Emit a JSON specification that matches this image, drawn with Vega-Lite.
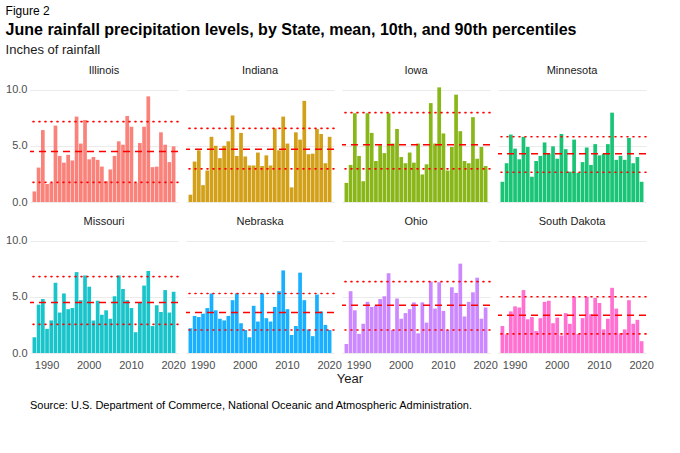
{
  "$schema": "https://vega.github.io/schema/vega-lite/v6.json",
  "title": {"text": "Figure 2", "anchor": "start", "fontSize": 12, "fontWeight": "normal", "offset": 4},
  "datasets": {
    "stats": [
      {"state": "Illinois", "mean": 4.5, "p10": 1.75, "p90": 7.15},
      {"state": "Indiana", "mean": 4.7, "p10": 2.95, "p90": 6.55},
      {"state": "Iowa", "mean": 5.1, "p10": 2.95, "p90": 7.95},
      {"state": "Minnesota", "mean": 4.3, "p10": 2.65, "p90": 5.8},
      {"state": "Missouri", "mean": 4.5, "p10": 2.55, "p90": 6.8},
      {"state": "Nebraska", "mean": 3.6, "p10": 2.05, "p90": 5.3},
      {"state": "Ohio", "mean": 4.25, "p10": 2.05, "p90": 6.35},
      {"state": "South Dakota", "mean": 3.35, "p10": 1.7, "p90": 5.0}
    ]
  },
  "vconcat": [
    {
      "title": {"text": "June rainfall precipitation levels, by State, mean, 10th, and 90th percentiles", "subtitle": "Inches of rainfall", "anchor": "start", "fontSize": 16, "fontWeight": "bold", "subtitleFontSize": 13, "subtitleColor": "#1a1a1a", "subtitlePadding": 6, "offset": 8},
      "data": {"values": [
        {"year": 1987, "Illinois": 0.94, "Indiana": 0.65, "Iowa": 1.7, "Minnesota": 1.8, "Missouri": 1.4, "Nebraska": 2.2, "Ohio": 0.8, "South Dakota": 2.4},
        {"year": 1988, "Illinois": 3.06, "Indiana": 3.6, "Iowa": 3.3, "Minnesota": 3.45, "Missouri": 4.3, "Nebraska": 3.3, "Ohio": 5.5, "South Dakota": 1.65},
        {"year": 1989, "Illinois": 6.4, "Indiana": 4.6, "Iowa": 7.9, "Minnesota": 6.0, "Missouri": 4.8, "Nebraska": 3.2, "Ohio": 3.8, "South Dakota": 3.7},
        {"year": 1990, "Illinois": 1.6, "Indiana": 1.5, "Iowa": 4.1, "Minnesota": 4.75, "Missouri": 2.15, "Nebraska": 3.5, "Ohio": 1.7, "South Dakota": 4.15},
        {"year": 1991, "Illinois": 1.7, "Indiana": 2.8, "Iowa": 1.85, "Minnesota": 3.8, "Missouri": 2.9, "Nebraska": 4.0, "Ohio": 2.6, "South Dakota": 4.05},
        {"year": 1992, "Illinois": 6.8, "Indiana": 5.8, "Iowa": 7.9, "Minnesota": 5.8, "Missouri": 6.25, "Nebraska": 5.3, "Ohio": 4.55, "South Dakota": 5.6},
        {"year": 1993, "Illinois": 4.1, "Indiana": 5.0, "Iowa": 6.15, "Minnesota": 4.9, "Missouri": 3.6, "Nebraska": 3.8, "Ohio": 4.1, "South Dakota": 3.0},
        {"year": 1994, "Illinois": 3.5, "Indiana": 3.9, "Iowa": 3.65, "Minnesota": 2.25, "Missouri": 5.3, "Nebraska": 3.05, "Ohio": 4.2, "South Dakota": 3.2},
        {"year": 1995, "Illinois": 4.2, "Indiana": 5.0, "Iowa": 5.05, "Minnesota": 3.65, "Missouri": 3.9, "Nebraska": 2.9, "Ohio": 4.8, "South Dakota": 1.95},
        {"year": 1996, "Illinois": 3.7, "Indiana": 5.4, "Iowa": 4.35, "Minnesota": 4.1, "Missouri": 4.0, "Nebraska": 3.3, "Ohio": 5.05, "South Dakota": 3.1},
        {"year": 1997, "Illinois": 7.6, "Indiana": 7.7, "Iowa": 7.9, "Minnesota": 5.3, "Missouri": 7.2, "Nebraska": 4.7, "Ohio": 7.1, "South Dakota": 4.55},
        {"year": 1998, "Illinois": 5.2, "Indiana": 4.1, "Iowa": 5.2, "Minnesota": 4.3, "Missouri": 4.7, "Nebraska": 5.3, "Ohio": 2.05, "South Dakota": 4.65},
        {"year": 1999, "Illinois": 7.3, "Indiana": 6.15, "Iowa": 6.5, "Minnesota": 4.95, "Missouri": 6.9, "Nebraska": 2.65, "Ohio": 4.85, "South Dakota": 2.65},
        {"year": 2000, "Illinois": 3.8, "Indiana": 4.05, "Iowa": 4.0, "Minnesota": 3.85, "Missouri": 5.9, "Nebraska": 2.05, "Ohio": 3.05, "South Dakota": 3.15},
        {"year": 2001, "Illinois": 4.0, "Indiana": 3.25, "Iowa": 3.45, "Minnesota": 6.05, "Missouri": 2.9, "Nebraska": 1.4, "Ohio": 3.55, "South Dakota": 1.55},
        {"year": 2002, "Illinois": 3.75, "Indiana": 3.25, "Iowa": 4.4, "Minnesota": 4.7, "Missouri": 4.65, "Nebraska": 4.2, "Ohio": 3.9, "South Dakota": 3.55},
        {"year": 2003, "Illinois": 3.15, "Indiana": 4.4, "Iowa": 3.5, "Minnesota": 2.7, "Missouri": 3.4, "Nebraska": 2.8, "Ohio": 4.5, "South Dakota": 2.6},
        {"year": 2004, "Illinois": 1.85, "Indiana": 3.2, "Iowa": 5.2, "Minnesota": 5.55, "Missouri": 3.8, "Nebraska": 5.3, "Ohio": 1.75, "South Dakota": 5.0},
        {"year": 2005, "Illinois": 2.9, "Indiana": 4.15, "Iowa": 2.45, "Minnesota": 2.6, "Missouri": 3.05, "Nebraska": 3.1, "Ohio": 4.5, "South Dakota": 1.7},
        {"year": 2006, "Illinois": 4.1, "Indiana": 3.25, "Iowa": 3.35, "Minnesota": 3.55, "Missouri": 5.05, "Nebraska": 2.8, "Ohio": 2.7, "South Dakota": 3.1},
        {"year": 2007, "Illinois": 5.4, "Indiana": 6.55, "Iowa": 8.8, "Minnesota": 4.85, "Missouri": 6.9, "Nebraska": 4.1, "Ohio": 6.35, "South Dakota": 5.0},
        {"year": 2008, "Illinois": 5.1, "Indiana": 4.6, "Iowa": 5.2, "Minnesota": 3.3, "Missouri": 5.7, "Nebraska": 5.5, "Ohio": 3.95, "South Dakota": 3.45},
        {"year": 2009, "Illinois": 7.65, "Indiana": 7.6, "Iowa": 10.2, "Minnesota": 5.15, "Missouri": 4.7, "Nebraska": 7.35, "Ohio": 6.3, "South Dakota": 4.9},
        {"year": 2010, "Illinois": 6.7, "Indiana": 5.2, "Iowa": 6.1, "Minnesota": 4.15, "Missouri": 4.0, "Nebraska": 3.9, "Ohio": 3.75, "South Dakota": 4.45},
        {"year": 2011, "Illinois": 1.7, "Indiana": 1.3, "Iowa": 2.8, "Minnesota": 4.3, "Missouri": 1.85, "Nebraska": 1.6, "Ohio": 2.05, "South Dakota": 2.1},
        {"year": 2012, "Illinois": 5.25, "Indiana": 6.2, "Iowa": 4.9, "Minnesota": 5.15, "Missouri": 4.45, "Nebraska": 2.4, "Ohio": 5.85, "South Dakota": 3.05},
        {"year": 2013, "Illinois": 6.7, "Indiana": 5.55, "Iowa": 9.55, "Minnesota": 7.95, "Missouri": 6.0, "Nebraska": 7.15, "Ohio": 5.35, "South Dakota": 5.8},
        {"year": 2014, "Illinois": 9.4, "Indiana": 9.0, "Iowa": 6.3, "Minnesota": 3.75, "Missouri": 7.3, "Nebraska": 4.7, "Ohio": 7.95, "South Dakota": 3.95},
        {"year": 2015, "Illinois": 3.1, "Indiana": 4.25, "Iowa": 3.65, "Minnesota": 4.1, "Missouri": 2.4, "Nebraska": 2.1, "Ohio": 3.25, "South Dakota": 1.75},
        {"year": 2016, "Illinois": 3.15, "Indiana": 4.3, "Iowa": 3.45, "Minnesota": 3.75, "Missouri": 4.25, "Nebraska": 1.5, "Ohio": 4.55, "South Dakota": 2.1},
        {"year": 2017, "Illinois": 6.2, "Indiana": 6.5, "Iowa": 7.55, "Minnesota": 5.7, "Missouri": 3.65, "Nebraska": 5.2, "Ohio": 5.4, "South Dakota": 4.7},
        {"year": 2018, "Illinois": 5.1, "Indiana": 6.05, "Iowa": 3.85, "Minnesota": 3.45, "Missouri": 5.6, "Nebraska": 3.7, "Ohio": 6.7, "South Dakota": 2.6},
        {"year": 2019, "Illinois": 3.55, "Indiana": 3.45, "Iowa": 4.9, "Minnesota": 4.0, "Missouri": 3.6, "Nebraska": 2.5, "Ohio": 3.05, "South Dakota": 2.95},
        {"year": 2020, "Illinois": 4.95, "Indiana": 5.8, "Iowa": 3.2, "Minnesota": 1.8, "Missouri": 5.45, "Nebraska": 2.05, "Ohio": 4.05, "South Dakota": 1.05}
      ]},
      "transform": [
        {"fold": ["Illinois", "Indiana", "Iowa", "Minnesota", "Missouri", "Nebraska", "Ohio", "South Dakota"], "as": ["state", "rain"]},
        {"lookup": "state", "from": {"data": {"name": "stats"}, "key": "state", "fields": ["mean", "p10", "p90"]}}
      ],
      "facet": {"field": "state", "type": "nominal", "header": {"title": null, "labelFontSize": 11, "labelColor": "#1a1a1a", "labelPadding": 8}},
      "columns": 4,
      "spacing": {"column": 6, "row": 14},
      "spec": {
        "width": 148,
        "height": 118,
        "layer": [
          {
            "mark": {"type": "bar", "fillOpacity": 0.9},
            "encoding": {
              "x": {"field": "year", "type": "ordinal", "title": null, "scale": {"paddingInner": 0.12, "paddingOuter": 0.6},
                "axis": {"labelExpr": "datum.value % 10 == 0 ? datum.label : ''", "labelAngle": 0, "ticks": false, "domain": false, "labelFontSize": 11, "labelColor": "#4d4d4d", "labelPadding": 6}},
              "y": {"field": "rain", "type": "quantitative", "title": null, "scale": {"domain": [0, 10.5], "nice": false},
                "axis": {"values": [0, 2.5, 5, 7.5, 10], "format": ".1f", "labelOverlap": false, "ticks": false, "domain": false, "gridColor": "#ebebeb", "labelFontSize": 11, "labelColor": "#4d4d4d"}},
              "color": {"field": "state", "type": "nominal", "legend": null,
                "scale": {"domain": ["Illinois", "Indiana", "Iowa", "Minnesota", "Missouri", "Nebraska", "Ohio", "South Dakota"],
                  "range": ["#F8766D", "#CD9600", "#7CAE00", "#00BE67", "#00BFC4", "#00A9FF", "#C77CFF", "#FF61CC"]}}
            }
          },
          {
            "mark": {"type": "rule", "color": "#ff0000", "strokeWidth": 1.5, "strokeDash": [7, 5]},
            "encoding": {"y": {"aggregate": "mean", "field": "mean", "type": "quantitative"}}
          },
          {
            "mark": {"type": "rule", "color": "#ff0000", "strokeWidth": 1.6, "strokeDash": [1, 5], "strokeCap": "round"},
            "encoding": {"y": {"aggregate": "mean", "field": "p10", "type": "quantitative"}}
          },
          {
            "mark": {"type": "rule", "color": "#ff0000", "strokeWidth": 1.6, "strokeDash": [1, 5], "strokeCap": "round"},
            "encoding": {"y": {"aggregate": "mean", "field": "p90", "type": "quantitative"}}
          }
        ]
      }
    },
    {
      "width": 640,
      "height": 14,
      "data": {"values": [{"label": "Year"}]},
      "title": {"text": "Source: U.S. Department of Commerce, National Oceanic and Atmospheric Administration.", "orient": "bottom", "anchor": "start", "fontSize": 11, "fontWeight": "normal", "offset": 14},
      "mark": {"type": "text", "fontSize": 13, "color": "#1a1a1a"},
      "encoding": {"text": {"field": "label"}}
    }
  ],
  "spacing": 2,
  "config": {
    "font": "Liberation Sans",
    "view": {"stroke": null},
    "background": "white"
  }
}
